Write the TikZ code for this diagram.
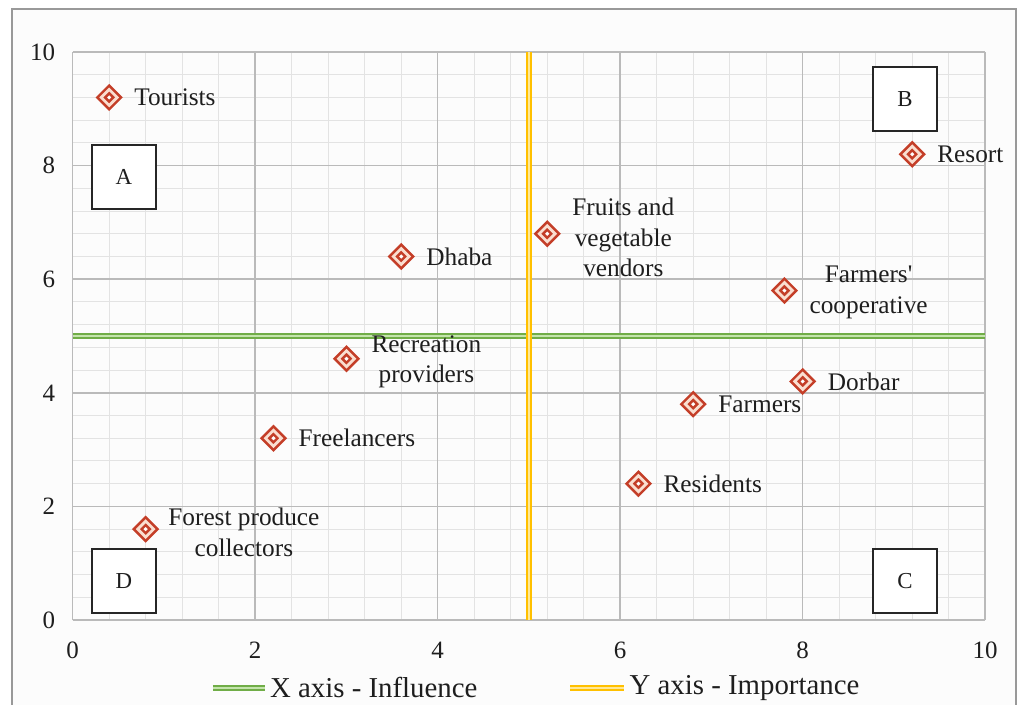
\documentclass[tikz,border=0pt]{standalone}
\usepackage{fontspec}
\setmainfont{Liberation Serif}[Ligatures=TeXOff]
\usepackage{tikz}
\usetikzlibrary{shapes.geometric,positioning}
\definecolor{mkred}{RGB}{196,62,40}
\definecolor{mkband}{RGB}{250,222,208}
\definecolor{axgreen}{RGB}{112,173,71}
\definecolor{axgreenlt}{RGB}{196,228,172}
\definecolor{axyellow}{RGB}{255,192,0}
\definecolor{axyellowlt}{RGB}{255,232,150}
\definecolor{txt}{RGB}{30,30,30}
\tikzstyle{frame} = [draw=black!40, line width=0.04cm, fill=black!1]
\tikzstyle{gridminor} = [draw=black!11, line width=0.02cm]
\tikzstyle{gridmajor} = [draw=black!27, line width=0.03cm]
\tikzstyle{xline} = [draw=axgreen, line width=0.04cm, double=axgreenlt, double distance=0.04cm]
\tikzstyle{yline} = [draw=axyellow, line width=0.04cm, double=axyellowlt, double distance=0.04cm]
\tikzstyle{stake} = [diamond, minimum size=0.34cm, inner sep=0pt, draw=mkred, line width=0.052cm, double=mkband, double distance=0.055cm, fill=white]
\tikzstyle{lab} = [font=\fontsize{14.4}{17.4}\selectfont, text=txt, align=center, inner sep=0pt]
\tikzstyle{quad} = [rectangle, minimum size=1.28cm, inner sep=0pt, draw=black!85, line width=0.04cm, fill=white, text=txt, font=\fontsize{13}{15}\selectfont]
\tikzstyle{tck} = [font=\fontsize{14.2}{16}\selectfont, text=txt, inner sep=0pt]
\tikzstyle{leg} = [font=\fontsize{16.4}{19}\selectfont, text=txt, inner sep=0pt, anchor=west]

\begin{document}
\begin{tikzpicture}
\useasboundingbox (0,0) rectangle (20.46,14.08);
\draw[frame] (0.24,-0.5) rectangle (20.32,13.9);
\begin{scope}[shift={(1.454,1.68)}, x=1.825cm, y=1.136cm]
  % grid and ticks
  \draw[gridminor] (0,0) grid[step=0.4] (10,10);
  \draw[gridmajor] (0,0) grid[step=2] (10,10);
  \foreach \v in {0,2,...,10} {
    \node[tck, anchor=east] (ty\v) at (-0.19,\v) {\v};
    \node[tck] (tx\v) at (\v,-0.53) {\v};
  }
  % quadrant dividers
  \draw[xline] (0,5) -- (10,5);
  \draw[yline] (5,0) -- (5,10);
  % quadrants
  \node[quad] (qa) at (0.56,7.8) {A};
  \node[quad] (qb) at (9.12,9.18) {B};
  \node[quad] (qc) at (9.12,0.69) {C};
  \node[quad] (qd) at (0.56,0.69) {D};
  % stakeholders
  \node[stake] (tour) at (0.4,9.2) {};
  \node[stake] (resort) at (9.2,8.2) {};
  \node[stake] (fvv) at (5.2,6.8) {};
  \node[stake] (dhaba) at (3.6,6.4) {};
  \node[stake] (fcoop) at (7.8,5.8) {};
  \node[stake] (rec) at (3.0,4.6) {};
  \node[stake] (dorbar) at (8.0,4.2) {};
  \node[stake] (farm) at (6.8,3.8) {};
  \node[stake] (free) at (2.2,3.2) {};
  \node[stake] (resid) at (6.2,2.4) {};
  \node[stake] (forest) at (0.8,1.6) {};
  \node[lab, right=0.3cm of tour] (tourl) {Tourists};
  \node[lab, right=0.3cm of resort] (resortl) {Resort};
  \node[lab, right=0.3cm of fvv, yshift=-0.08cm] (fvvl) {Fruits and\\vegetable\\vendors};
  \node[lab, right=0.3cm of dhaba] (dhabal) {Dhaba};
  \node[lab, right=0.3cm of fcoop, yshift=-0.04cm] (fcoopl) {Farmers'\\cooperative};
  \node[lab, right=0.3cm of rec, yshift=-0.06cm] (recl) {Recreation\\providers};
  \node[lab, right=0.3cm of dorbar] (dorbarl) {Dorbar};
  \node[lab, right=0.3cm of farm] (farml) {Farmers};
  \node[lab, right=0.3cm of free] (freel) {Freelancers};
  \node[lab, right=0.3cm of resid] (residl) {Residents};
  \node[lab, right=0.25cm of forest, yshift=-0.06cm] (forestl) {Forest produce\\collectors};
  % legend
  \coordinate (gx1) at (1.537,-1.197);
  \coordinate (gx2) at (2.107,-1.197);
  \coordinate (gy1) at (5.45,-1.197);
  \coordinate (gy2) at (6.04,-1.197);
  \draw[xline] (gx1) -- (gx2);
  \draw[yline] (gy1) -- (gy2);
  \node[leg] (legx) at (2.16,-1.197) {X axis - Influence};
  \node[leg] (legy) at (6.10,-1.197) {Y axis - Importance};
\end{scope}
\end{tikzpicture}
\end{document}
